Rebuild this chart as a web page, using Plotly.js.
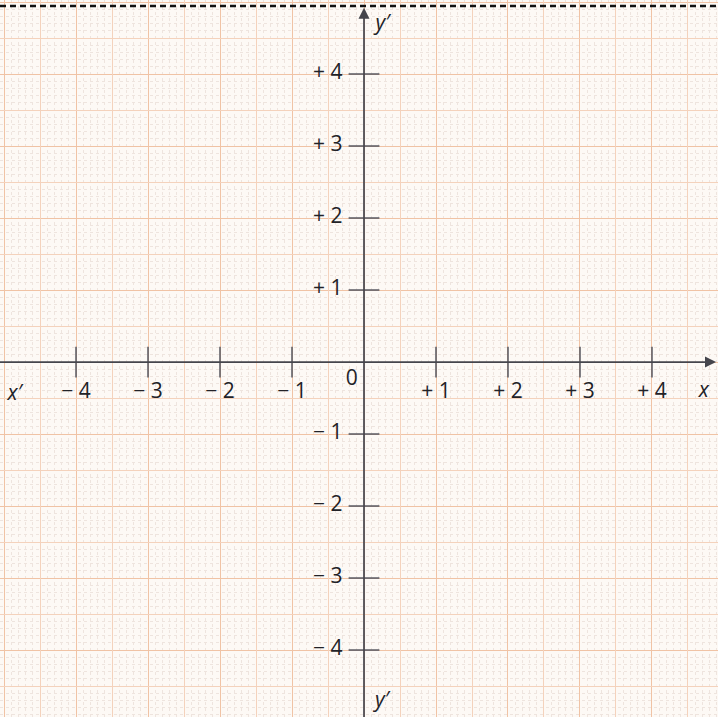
<!DOCTYPE html>
<html>
<head>
<meta charset="utf-8">
<script src="https://cdn.plot.ly/plotly-3.0.1.min.js"></script>
<style>
    html, body { margin: 0; padding: 0; background: #fdf9f5; }
    #chart { width: 718px; height: 717px; }
</style>
</head>
<body>
<div id="chart"></div>
<script>
"use strict";

// tick positions and their printed labels
var xTicks = [-4, -3, -2, -1, 1, 2, 3, 4];
var xTickLabels = ["\u2212 4", "\u2212 3", "\u2212 2", "\u2212 1", "+ 1", "+ 2", "+ 3", "+ 4"];
var yTicks = [4, 3, 2, 1, -1, -2, -3, -4];
var yTickLabels = ["+ 4", "+ 3", "+ 2", "+ 1", "\u2212 1", "\u2212 2", "\u2212 3", "\u2212 4"];

// axis names
var axisNames = ["<i>x\u2032</i>", "<i>x</i>", "<i>y\u2032</i>", "<i>y\u2032</i>", "0"];
var axisNameX = [-4.85, 4.72, 0.26, 0.25, -0.17];
var axisNameY = [-0.45, -0.41, 4.68, -4.72, -0.25];

var xRange = [-5.056, 4.917];
var yRange = [-4.93, 5.028];

var axisColor = "#45454c";
var tickColor = "#5e5e66";
var textColor = "#222227";
var labelFont = { family: "Open Sans, sans-serif", size: 21, color: textColor };

var zeros = xTicks.map(function(){ return 0; });

var traces = [
    {   // tick marks on x axis
        x: xTicks, y: zeros, type: "scatter", mode: "markers",
        marker: { symbol: "line-ns-open", size: 22, color: tickColor, line: { width: 1.6, color: tickColor } },
        hoverinfo: "skip", showlegend: false
    },
    {   // tick marks on y axis
        x: zeros, y: yTicks, type: "scatter", mode: "markers",
        marker: { symbol: "line-ew-open", size: 22, color: tickColor, line: { width: 1.6, color: tickColor } },
        hoverinfo: "skip", showlegend: false
    },
    {
        x: xTicks, y: xTicks.map(function(){ return -0.42; }),
        type: "scatter", mode: "text", text: xTickLabels,
        textposition: "middle center", textfont: labelFont,
        hoverinfo: "skip", showlegend: false
    },
    {
        x: yTicks.map(function(){ return -0.3; }), y: yTicks,
        type: "scatter", mode: "text", text: yTickLabels,
        textposition: "middle left", textfont: labelFont,
        hoverinfo: "skip", showlegend: false
    },
    {
        x: axisNameX, y: axisNameY,
        type: "scatter", mode: "text", text: axisNames,
        textposition: "middle center", textfont: labelFont,
        hoverinfo: "skip", showlegend: false
    },
    {   // carries the half-unit grid axes
        x: [0], y: [0], xaxis: "x2", yaxis: "y2",
        type: "scatter", mode: "markers", marker: { opacity: 0 },
        hoverinfo: "skip", showlegend: false
    }
];

function gridAxis(range){
    return {
        range: range, fixedrange: true,
        tick0: 0, dtick: 1,
        showgrid: true, gridcolor: "#f0c3a5", gridwidth: 1,
        minor: { tick0: 0, dtick: 0.1, showgrid: true, gridcolor: "#eee4de", gridwidth: 1, griddash: "dot" },
        zeroline: false, showline: false, showticklabels: false, ticks: ""
    };
}

function halfAxis(range, over){
    return {
        range: range, fixedrange: true, overlaying: over,
        tick0: 0.5, dtick: 1,
        showgrid: true, gridcolor: "#f4d2bc", gridwidth: 1,
        zeroline: false, showline: false, showticklabels: false, ticks: ""
    };
}

var layout = {
    width: 718,
    height: 717,
    margin: { l: 0, r: 0, t: 0, b: 0, pad: 0 },
    paper_bgcolor: "#fdf9f5",
    plot_bgcolor: "#fdf9f5",
    showlegend: false,
    xaxis: gridAxis(xRange),
    yaxis: gridAxis(yRange),
    xaxis2: halfAxis(xRange, "x"),
    yaxis2: halfAxis(yRange, "y"),
    annotations: [
        {   // x axis with arrow
            x: 4.89, y: 0, ax: -5.2, ay: 0,
            xref: "x", yref: "y", axref: "x", ayref: "y",
            text: "", showarrow: true, arrowhead: 2, arrowsize: 1.3,
            arrowwidth: 1.7, arrowcolor: axisColor, standoff: 0
        },
        {   // y axis with arrow
            x: 0, y: 4.92, ax: 0, ay: -5.1,
            xref: "x", yref: "y", axref: "x", ayref: "y",
            text: "", showarrow: true, arrowhead: 2, arrowsize: 1.3,
            arrowwidth: 1.7, arrowcolor: axisColor, standoff: 0
        }
    ],
    shapes: [
        {   // dashed cut line along the top
            type: "line", xref: "paper", yref: "paper",
            x0: 0, x1: 1, y0: 0.9916, y1: 0.9916,
            line: { color: "#111111", width: 2.5, dash: "6px,4px" }
        }
    ]
};

Plotly.newPlot("chart", traces, layout, { displayModeBar: false, staticPlot: true });
</script>
</body>
</html>
